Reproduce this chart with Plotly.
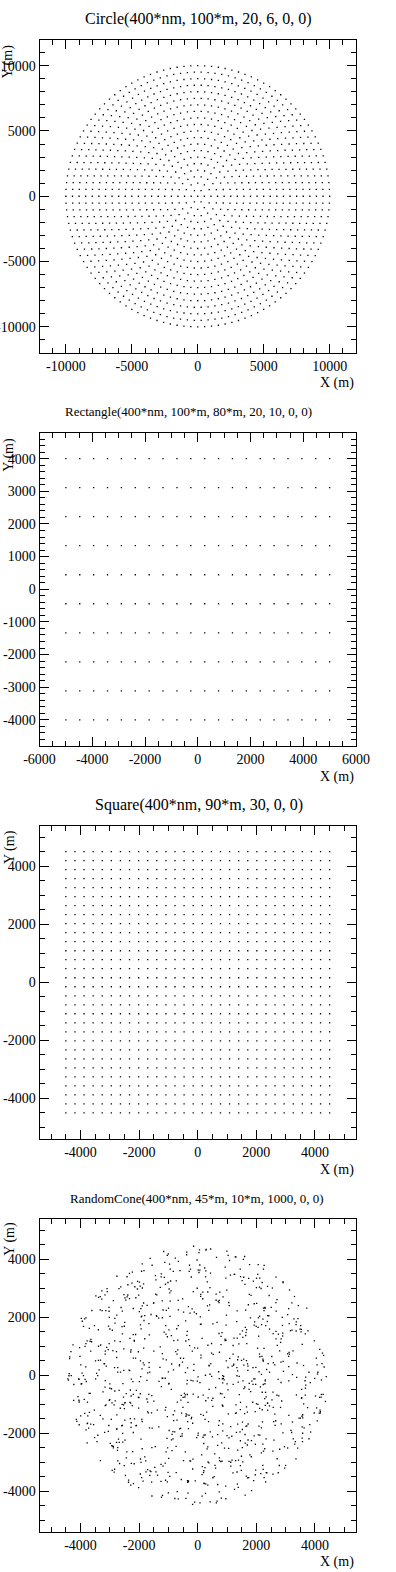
import numpy as np
import plotly.graph_objects as go

W, H = 396, 1572

# ---------------- data ----------------
titles = [
    "Circle(400*nm, 100*m, 20, 6, 0, 0)",
    "Rectangle(400*nm, 100*m, 80*m, 20, 10, 0, 0)",
    "Square(400*nm, 90*m, 30, 0, 0)",
    "RandomCone(400*nm, 45*m, 10*m, 1000, 0, 0)",
]

# Circle: concentric rings (radius in m, number of points on the ring) + centre point
circle_ring_radii = [500, 1000, 1500, 2000, 2500, 3000, 3500, 4000, 4500, 5000,
                     5500, 6000, 6500, 7000, 7500, 8000, 8500, 9000, 9500, 10000]
circle_ring_counts = [6, 12, 18, 24, 30, 36, 42, 48, 54, 60,
                      66, 72, 78, 84, 90, 96, 102, 108, 114, 120]

# Rectangle: 20 columns x 10 rows
rect_cols = [-5000, -4474, -3947, -3421, -2895, -2368, -1842, -1316, -789, -263,
             263, 789, 1316, 1842, 2368, 2895, 3421, 3947, 4474, 5000]
rect_rows = [-4000, -3111, -2222, -1333, -444, 444, 1333, 2222, 3111, 4000]

# Square: 30 x 30 grid
square_pos = [-4500, -4190, -3879, -3569, -3259, -2948, -2638, -2328, -2017, -1707,
              -1397, -1086, -776, -466, -155, 155, 466, 776, 1086, 1397,
              1707, 2017, 2328, 2638, 2948, 3259, 3569, 3879, 4190, 4500]

# RandomCone: 1000 points scattered over a disc of radius ~4500 m.
# (The reference points are themselves random samples; they are regenerated
#  deterministically here with the count and radius.)
cone_n = 1000
cone_radius = 4450

# axis setup per panel
x_ranges = [[-12000, 12000], [-6000, 6000], [-5400, 5400], [-5400, 5400]]
y_ranges = [[-12000, 12000], [-4800, 4800], [-5400, 5400], [-5400, 5400]]
x_tickvals = [[-10000, -5000, 0, 5000, 10000],
              [-6000, -4000, -2000, 0, 2000, 4000, 6000],
              [-4000, -2000, 0, 2000, 4000],
              [-4000, -2000, 0, 2000, 4000]]
x_ticktext = [["-10000", "-5000", "0", "5000", "10000"],
              ["-6000", "-4000", "-2000", "0", "2000", "4000", "6000"],
              ["-4000", "-2000", "0", "2000", "4000"],
              ["-4000", "-2000", "0", "2000", "4000"]]
y_tickvals = [[-10000, -5000, 0, 5000, 10000],
              [-4000, -3000, -2000, -1000, 0, 1000, 2000, 3000, 4000],
              [-4000, -2000, 0, 2000, 4000],
              [-4000, -2000, 0, 2000, 4000]]
y_ticktext = [["-10000", "-5000", "0", "5000", "10000"],
              ["-4000", "-3000", "-2000", "-1000", "0", "1000", "2000", "3000", "4000"],
              ["-4000", "-2000", "0", "2000", "4000"],
              ["-4000", "-2000", "0", "2000", "4000"]]
x_minor = [1000, 500, 500, 500]
y_minor = [1000, 200, 500, 500]

# ---------------- build point sets ----------------
cx, cy = [0.0], [0.0]
for r, n in zip(circle_ring_radii, circle_ring_counts):
    ang = 2 * np.pi * np.arange(n) / n
    cx.extend(r * np.cos(ang))
    cy.extend(r * np.sin(ang))

rx, ry = np.meshgrid(rect_cols, rect_rows)
sx, sy = np.meshgrid(square_pos, square_pos)

rng = np.random.default_rng(20240601)
rr = cone_radius * np.sqrt(rng.random(cone_n))
th = 2 * np.pi * rng.random(cone_n)
kx, ky = rr * np.cos(th), rr * np.sin(th)

points = [(cx, cy), (rx.ravel(), ry.ravel()), (sx.ravel(), sy.ravel()), (kx, ky)]

# ---------------- figure ----------------
fig = go.Figure()
PANEL = 393
FONT = "Liberation Serif"
frame_l, frame_r = 39.5, 356.0
frame_t0, frame_b0 = 39.5, 353.0

title_x = [198.7, 188.3, 198.7, 197.2]
title_y = [19, 412, 804.5, 1198]
title_size = [16, 13, 16, 13]
ylab_x = [7.5, 9.2, 10, 9.2]
ylab_dy = [3.5, 3, 2.5, 1]
xlab_dy = [30, 31, 31, 30.4]

annotations = []
for i in range(4):
    top = frame_t0 + PANEL * i
    bot = frame_b0 + PANEL * i
    xa = "x" if i == 0 else f"x{i+1}"
    ya = "y" if i == 0 else f"y{i+1}"
    px, py = points[i]
    fig.add_trace(go.Scatter(x=px, y=py, mode="markers", xaxis=xa, yaxis=ya,
                             marker=dict(symbol="square", size=1.3, color="black",
                                         line=dict(width=0)),
                             hoverinfo="skip", showlegend=False))
    common = dict(showline=True, linecolor="black", linewidth=1, mirror="allticks",
                  ticks="inside", ticklen=9, tickwidth=1, tickcolor="black",
                  tickmode="array", showgrid=False, zeroline=False, automargin=False,
                  tickfont=dict(family=FONT, size=14, color="black"))
    fig.layout[f"xaxis{'' if i == 0 else i+1}"] = dict(
        common, range=x_ranges[i], domain=[frame_l / W, frame_r / W],
        anchor=ya, tickvals=x_tickvals[i], ticktext=x_ticktext[i], tickangle=0,
        minor=dict(ticks="inside", ticklen=5, tickwidth=1, tickcolor="black",
                   tickmode="linear", tick0=0, dtick=x_minor[i], showgrid=False))
    fig.layout[f"yaxis{'' if i == 0 else i+1}"] = dict(
        common, range=y_ranges[i], domain=[1 - bot / H, 1 - top / H],
        anchor=xa, tickvals=y_tickvals[i], ticktext=y_ticktext[i],
        minor=dict(ticks="inside", ticklen=5, tickwidth=1, tickcolor="black",
                   tickmode="linear", tick0=0, dtick=y_minor[i], showgrid=False))
    annotations.append(dict(text=titles[i], xref="paper", yref="paper",
                            x=title_x[i] / W, y=1 - title_y[i] / H,
                            xanchor="center", yanchor="middle", showarrow=False,
                            font=dict(family=FONT, size=title_size[i], color="black")))
    annotations.append(dict(text="X (m)", xref="paper", yref="paper",
                            x=frame_r / W, y=1 - (bot + xlab_dy[i]) / H,
                            xanchor="right", yanchor="middle", showarrow=False,
                            font=dict(family=FONT, size=14, color="black")))
    annotations.append(dict(text="Y (m)", xref="paper", yref="paper", textangle=-90,
                            x=ylab_x[i] / W, y=1 - (top + ylab_dy[i]) / H,
                            xanchor="center", yanchor="top", showarrow=False,
                            font=dict(family=FONT, size=14, color="black")))

fig.update_layout(template="none", width=W, height=H,
                  margin=dict(l=0, r=0, t=0, b=0, pad=0, autoexpand=False),
                  paper_bgcolor="white", plot_bgcolor="white",
                  showlegend=False, annotations=annotations)

fig.write_html("out.html", config={"displayModeBar": False},
               post_script="document.body.style.margin='0';document.body.style.overflow='hidden';")
